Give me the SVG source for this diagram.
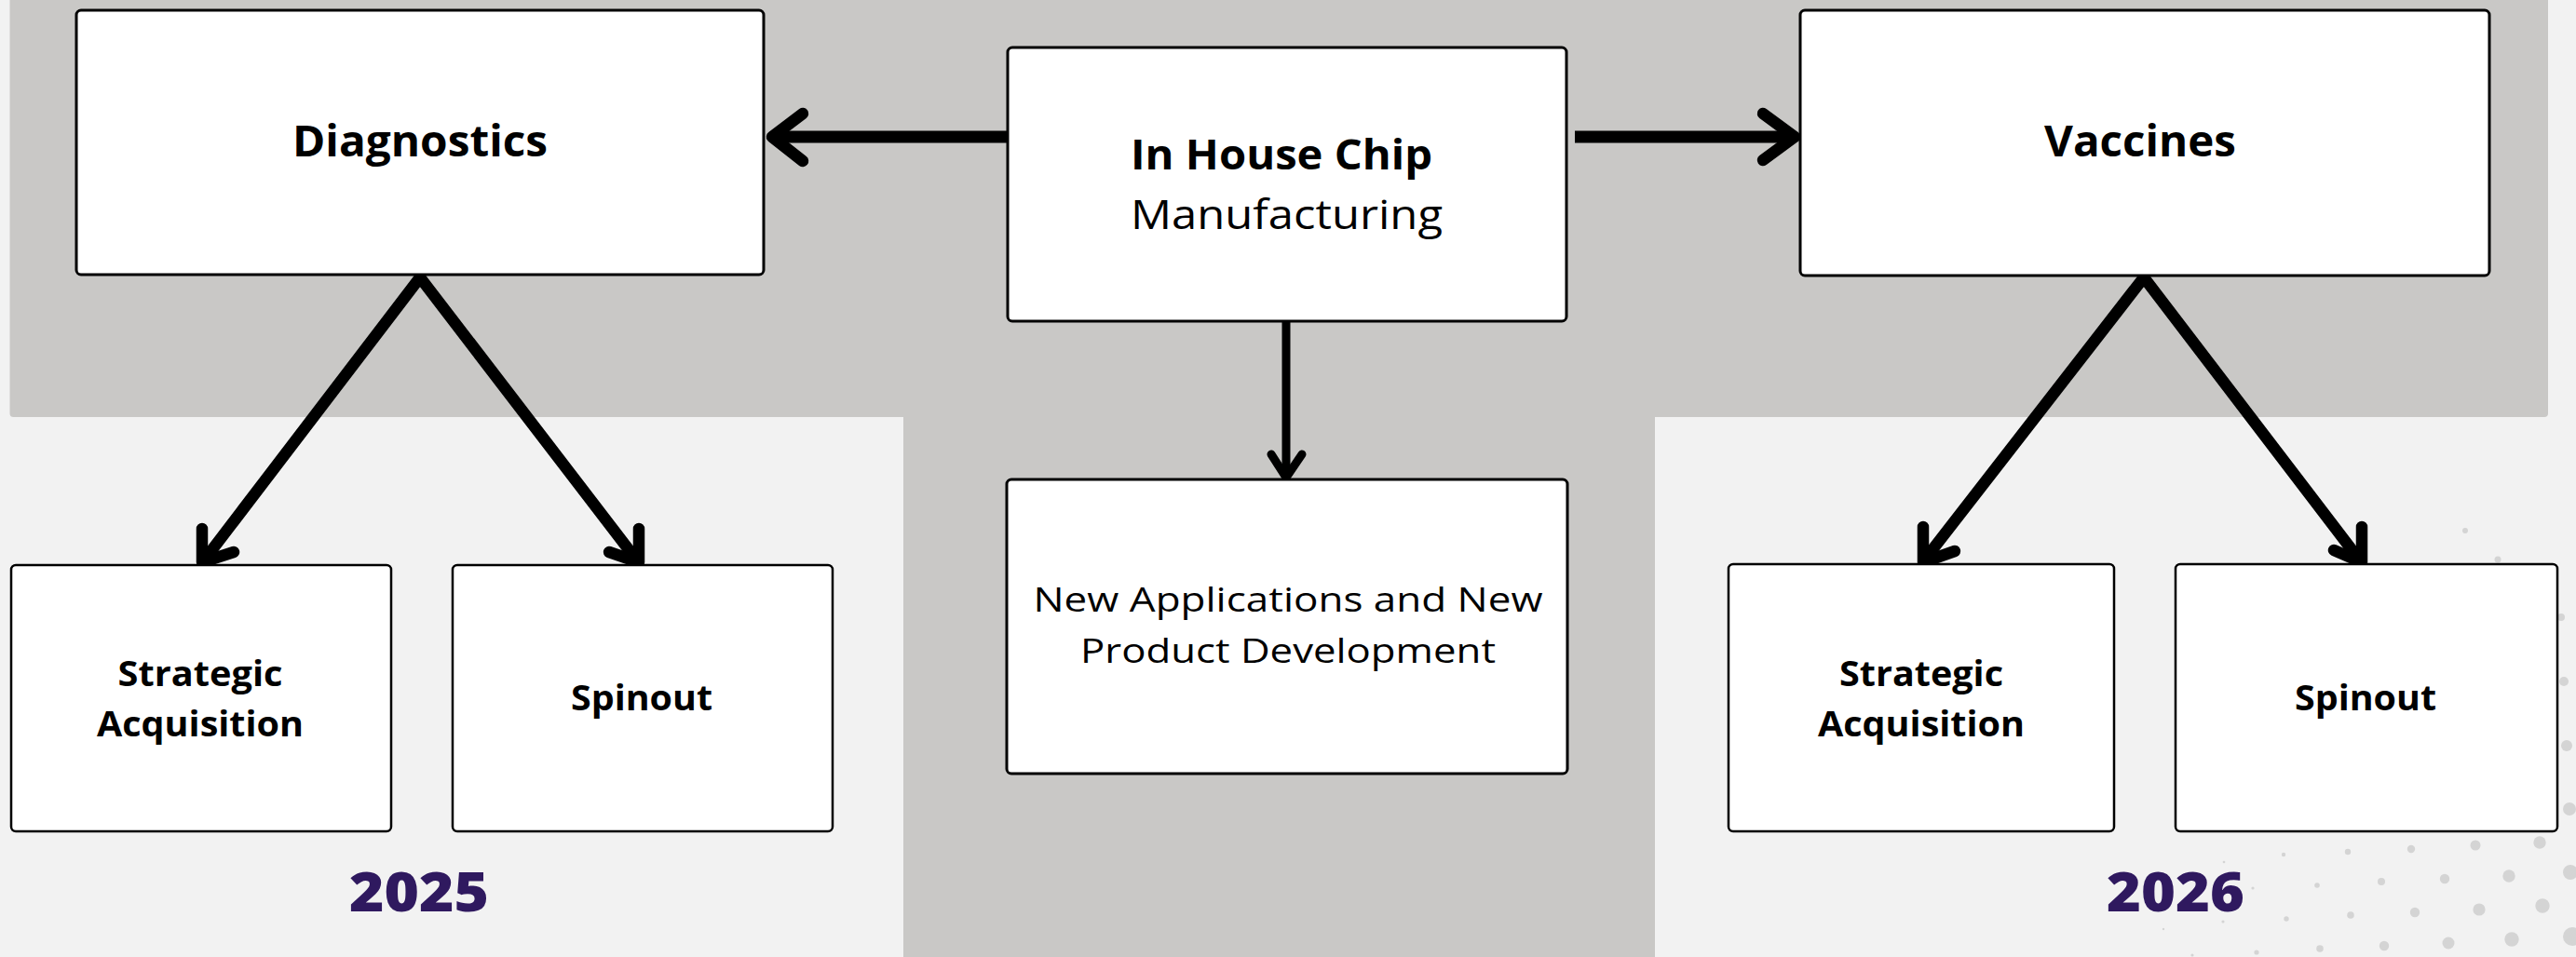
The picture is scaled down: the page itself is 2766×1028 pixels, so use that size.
<svg xmlns="http://www.w3.org/2000/svg" width="2766" height="1028" viewBox="0 0 2766 1028">
<style>
.box{fill:#ffffff;stroke:#000000;stroke-width:3}
.small{fill:#ffffff;stroke:#000000;stroke-width:2.5}
.t{font-family:"Open Sans","Liberation Sans",sans-serif;fill:#000000}
.b{font-weight:700}
.r{font-weight:500}
.yr{font-family:"Open Sans","Liberation Sans",sans-serif;font-weight:800;fill:#2f195f;font-size:59px}
.ln{fill:none;stroke:#000000;stroke-width:12.5;stroke-linecap:round;stroke-linejoin:round}
.lnb{fill:none;stroke:#000000;stroke-width:13;stroke-linecap:butt}
.ln9{fill:none;stroke:#000000;stroke-width:9;stroke-linecap:round;stroke-linejoin:round}
.dot{fill:#d4d4d4}
</style>
<rect x="0" y="0" width="2766" height="1028" fill="#f2f2f2"/>
<g id="background">
<path d="M10.5,0 H2736 V444 Q2736,448 2732,448 H1777 V1028 H970 V448 H14.5 Q10.5,448 10.5,444 Z" fill="#c9c8c6"/>
</g>
<g id="dots">
<circle class="dot" cx="2727" cy="905" r="6.7"/><circle class="dot" cx="2658" cy="908" r="5.5"/><circle class="dot" cx="2589" cy="912" r="4.2"/><circle class="dot" cx="2521" cy="915" r="3.2"/><circle class="dot" cx="2452" cy="918" r="2.2"/><circle class="dot" cx="2388" cy="926" r="1.3"/>
<circle class="dot" cx="2760" cy="937" r="8"/><circle class="dot" cx="2694" cy="941" r="6.7"/><circle class="dot" cx="2625" cy="944" r="5.2"/><circle class="dot" cx="2557" cy="947" r="4"/><circle class="dot" cx="2488" cy="951" r="2.8"/><circle class="dot" cx="2419" cy="954" r="1.6"/>
<circle class="dot" cx="2730" cy="973" r="7.7"/><circle class="dot" cx="2662" cy="977" r="6.6"/><circle class="dot" cx="2593" cy="980" r="5.2"/><circle class="dot" cx="2524" cy="983" r="3.8"/><circle class="dot" cx="2455" cy="987" r="2.7"/><circle class="dot" cx="2387" cy="990" r="1.6"/><circle class="dot" cx="2323" cy="998" r="1.2"/>
<circle class="dot" cx="2762" cy="1006" r="10"/><circle class="dot" cx="2697" cy="1009" r="7.7"/><circle class="dot" cx="2629" cy="1013" r="6.5"/><circle class="dot" cx="2560" cy="1016" r="5.2"/><circle class="dot" cx="2491" cy="1019" r="3.8"/><circle class="dot" cx="2423" cy="1023" r="2.6"/><circle class="dot" cx="2354" cy="1026" r="1.6"/>
<circle class="dot" cx="2759" cy="869" r="7"/><circle class="dot" cx="2756" cy="801" r="6"/><circle class="dot" cx="2753" cy="732" r="5"/><circle class="dot" cx="2750" cy="663" r="4"/><circle class="dot" cx="2682" cy="601" r="3.5"/><circle class="dot" cx="2647" cy="570" r="3"/>
</g>
<g id="connectors">
<path class="lnb" d="M1086,147 H834"/>
<path class="ln" d="M862,122 L829,147 L862,173"/>
<path class="lnb" d="M1691,147 H1922"/>
<path class="ln" d="M1893,122 L1927,147 L1893,172"/>
<path class="ln9" d="M1381,346 V510"/>
<path class="ln9" d="M1365,488 L1381,513 L1398,488"/>
<path class="ln" d="M451,298 L219,602"/>
<path class="ln" d="M217,568 L217,604 L251,593"/>
<path class="ln" d="M451,298 L684,602"/>
<path class="ln" d="M686,568 L686,604 L654,593"/>
<path class="ln" d="M2302,298 L2066,602"/>
<path class="ln" d="M2065,566 L2065,604 L2099,592"/>
<path class="ln" d="M2302,298 L2534,602"/>
<path class="ln" d="M2536,566 L2536,604 L2506,591"/>
</g>
<g id="diagnostics">
<rect class="box" x="82" y="11" width="738" height="284" rx="5"/>
<text class="t b" x="451" y="168" font-size="46" text-anchor="middle" textLength="274" lengthAdjust="spacingAndGlyphs">Diagnostics</text>
</g>
<g id="chip">
<rect class="box" x="1082" y="51" width="600" height="294" rx="5"/>
<text class="t b" x="1214" y="182" font-size="45" textLength="324" lengthAdjust="spacingAndGlyphs">In House Chip</text>
<text class="t r" x="1214" y="246" font-size="44" textLength="335" lengthAdjust="spacingAndGlyphs">Manufacturing</text>
</g>
<g id="vaccines">
<rect class="box" x="1933" y="11" width="740" height="285" rx="5"/>
<text class="t b" x="2298" y="168" font-size="46" text-anchor="middle" textLength="206" lengthAdjust="spacingAndGlyphs">Vaccines</text>
</g>
<g id="newapps">
<rect class="box" x="1081" y="515" width="602" height="316" rx="5"/>
<text class="t r" x="1383" y="657" font-size="36" text-anchor="middle" textLength="547" lengthAdjust="spacingAndGlyphs">New Applications and New</text>
<text class="t r" x="1383" y="712" font-size="36" text-anchor="middle" textLength="446" lengthAdjust="spacingAndGlyphs">Product Development</text>
</g>
<g id="acq2025">
<rect class="small" x="12" y="607" width="408" height="286" rx="5"/>
<text class="t b" x="215" y="737" font-size="38" text-anchor="middle" textLength="177" lengthAdjust="spacingAndGlyphs">Strategic</text>
<text class="t b" x="215" y="791" font-size="38" text-anchor="middle" textLength="222" lengthAdjust="spacingAndGlyphs">Acquisition</text>
</g>
<g id="spin2025">
<rect class="small" x="486" y="607" width="408" height="286" rx="5"/>
<text class="t b" x="689" y="763" font-size="38" text-anchor="middle" textLength="152" lengthAdjust="spacingAndGlyphs">Spinout</text>
</g>
<g id="acq2026">
<rect class="small" x="1856" y="606" width="414" height="287" rx="5"/>
<text class="t b" x="2063" y="737" font-size="38" text-anchor="middle" textLength="176" lengthAdjust="spacingAndGlyphs">Strategic</text>
<text class="t b" x="2063" y="791" font-size="38" text-anchor="middle" textLength="222" lengthAdjust="spacingAndGlyphs">Acquisition</text>
</g>
<g id="spin2026">
<rect class="small" x="2336" y="606" width="410" height="287" rx="5"/>
<text class="t b" x="2540" y="763" font-size="38" text-anchor="middle" textLength="152" lengthAdjust="spacingAndGlyphs">Spinout</text>
</g>
<g id="year2025">
<text class="yr" x="450" y="979" text-anchor="middle" textLength="150" lengthAdjust="spacingAndGlyphs">2025</text>
</g>
<g id="year2026">
<text class="yr" x="2336" y="979" text-anchor="middle" textLength="148" lengthAdjust="spacingAndGlyphs">2026</text>
</g>
</svg>
